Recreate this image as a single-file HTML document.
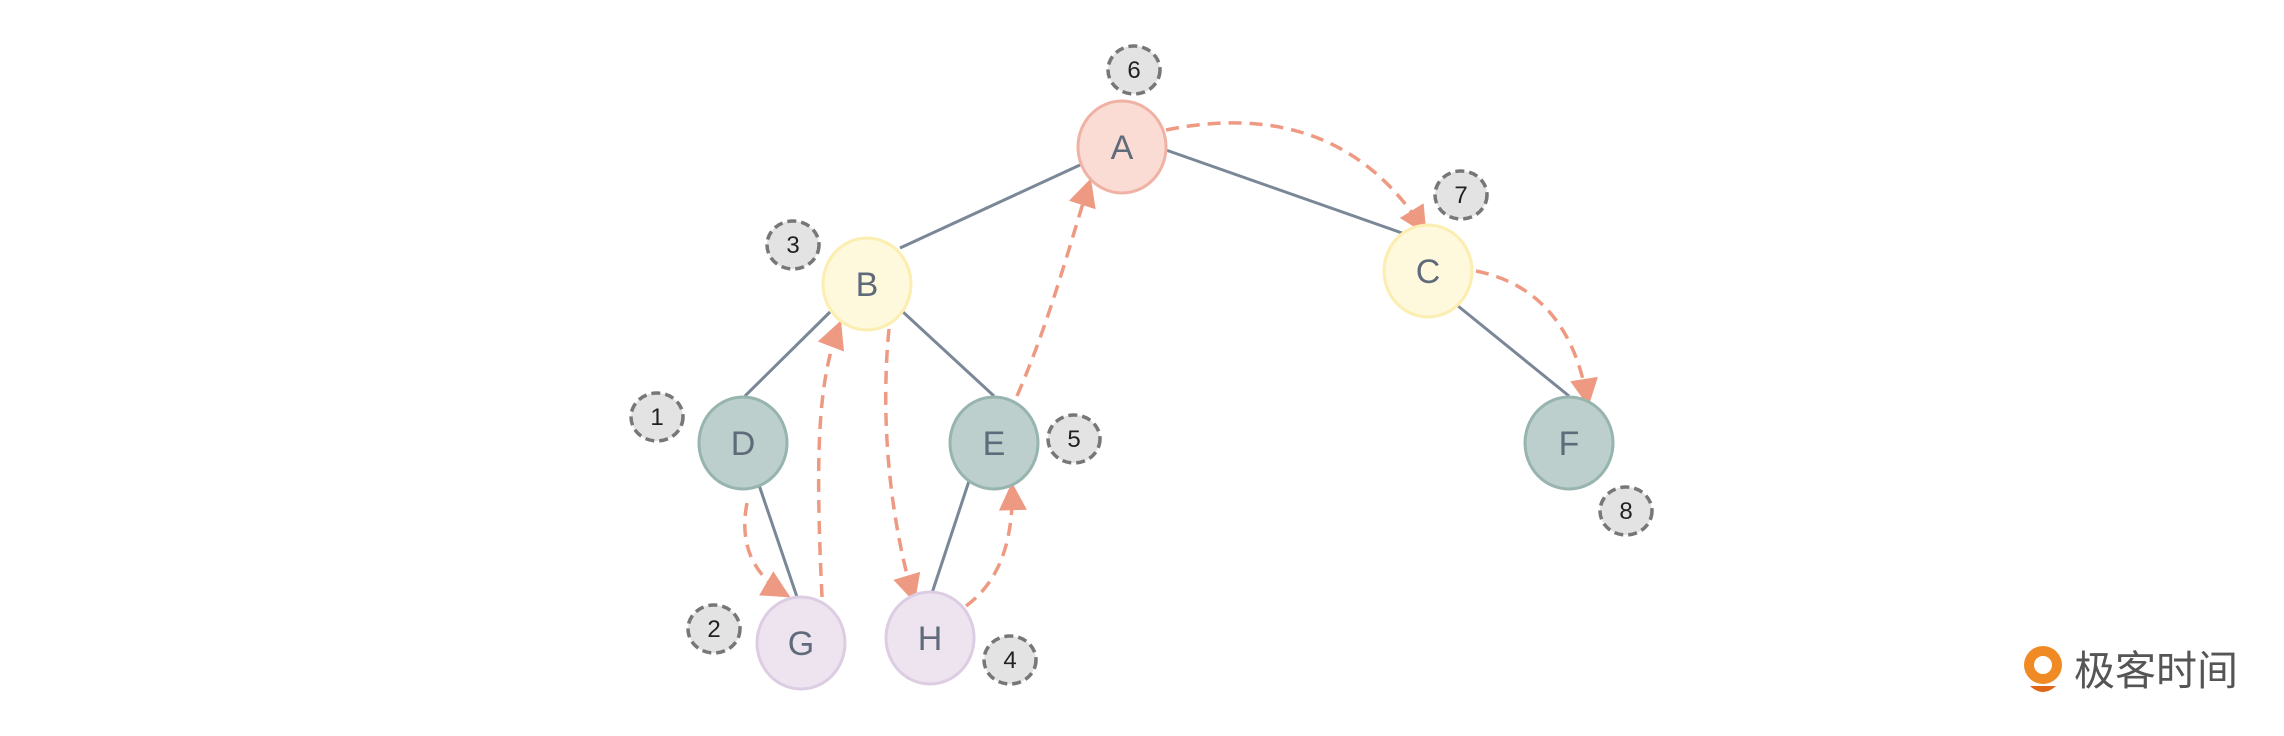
<!DOCTYPE html>
<html><head><meta charset="utf-8"><style>
html,body{margin:0;padding:0;background:#fff;}
svg{display:block;}
</style></head><body>
<svg width="2284" height="736" viewBox="0 0 2284 736" xmlns="http://www.w3.org/2000/svg">
<defs>
<marker id="ar" viewBox="0 0 10 10" refX="9" refY="5" markerWidth="9" markerHeight="8" orient="auto" markerUnits="strokeWidth">
<path d="M0,0 L10,5 L0,10 z" fill="#ee9a82"/>
</marker>
</defs>
<g stroke="#7a8797" stroke-width="3" fill="none">
<line x1="1080" y1="165" x2="900" y2="248"/>
<line x1="1166" y1="150" x2="1402" y2="233"/>
<line x1="830" y1="312" x2="745" y2="396"/>
<line x1="903" y1="312" x2="994" y2="396"/>
<line x1="1458" y1="306" x2="1569" y2="396"/>
<line x1="759" y1="485" x2="797" y2="597"/>
<line x1="969" y1="481" x2="932" y2="593"/>
</g>
<g stroke="#ee9a82" stroke-width="3.5" fill="none" stroke-dasharray="13,8" marker-end="url(#ar)">
<path d="M1166,130 Q1340,95 1425,232"/>
<path d="M1476,271 Q1570,290 1588,404"/>
<path d="M747,503 Q735,565 788,596"/>
<path d="M822,597 C815,450 818,380 840,323"/>
<path d="M889,329 C880,420 890,520 914,600"/>
<path d="M966,606 Q1015,570 1012,485"/>
<path d="M1017,396 C1050,320 1068,250 1090,181"/>
</g>
<g stroke-width="3" font-family="Liberation Sans, sans-serif" font-size="34" text-anchor="middle">
<ellipse cx="1122" cy="147" rx="44" ry="46" fill="#fbdcd5" stroke="#f0b2a4"/>
<ellipse cx="867" cy="284" rx="44" ry="46" fill="#fef8dc" stroke="#fbeeb0"/>
<ellipse cx="1428" cy="271" rx="44" ry="46" fill="#fef8dc" stroke="#fbeeb0"/>
<ellipse cx="743" cy="443" rx="44" ry="46" fill="#bccfcc" stroke="#97b4af"/>
<ellipse cx="994" cy="443" rx="44" ry="46" fill="#bccfcc" stroke="#97b4af"/>
<ellipse cx="1569" cy="443" rx="44" ry="46" fill="#bccfcc" stroke="#97b4af"/>
<ellipse cx="801" cy="643" rx="44" ry="46" fill="#ede4f0" stroke="#dccde3"/>
<ellipse cx="930" cy="638" rx="44" ry="46" fill="#ede4f0" stroke="#dccde3"/>
<g fill="#5f6b7a" stroke="none">
<text x="1122" y="159">A</text><text x="867" y="296">B</text><text x="1428" y="283">C</text>
<text x="743" y="455">D</text><text x="994" y="455">E</text><text x="1569" y="455">F</text>
<text x="801" y="655">G</text><text x="930" y="650">H</text>
</g>
</g>
<g fill="#e3e3e3" stroke="#777" stroke-width="3.5" stroke-dasharray="9,5" font-family="Liberation Sans, sans-serif" font-size="24" text-anchor="middle">
<ellipse cx="1134" cy="70" rx="26" ry="24"/>
<ellipse cx="1461" cy="195" rx="26" ry="24"/>
<ellipse cx="793" cy="245" rx="26" ry="24"/>
<ellipse cx="657" cy="417" rx="26" ry="24"/>
<ellipse cx="1074" cy="439" rx="26" ry="24"/>
<ellipse cx="714" cy="629" rx="26" ry="24"/>
<ellipse cx="1010" cy="660" rx="26" ry="24"/>
<ellipse cx="1626" cy="511" rx="26" ry="24"/>
<g fill="#222" stroke="none">
<text x="1134" y="78">6</text><text x="1461" y="203">7</text><text x="793" y="253">3</text>
<text x="657" y="425">1</text><text x="1074" y="447">5</text><text x="714" y="637">2</text>
<text x="1010" y="668">4</text><text x="1626" y="519">8</text>
</g>
</g>
<g>
<circle cx="2043" cy="665" r="19" fill="#f08a24"/>
<circle cx="2043" cy="665" r="9" fill="#fff"/>
<path d="M2030,686 Q2043,698 2056,686 Z" fill="#e0661a"/>
<text x="2074" y="685" font-family="Liberation Sans, 'Noto Sans CJK SC', sans-serif" font-size="41" fill="#555">极客时间</text>
</g>
</svg>
</body></html>
